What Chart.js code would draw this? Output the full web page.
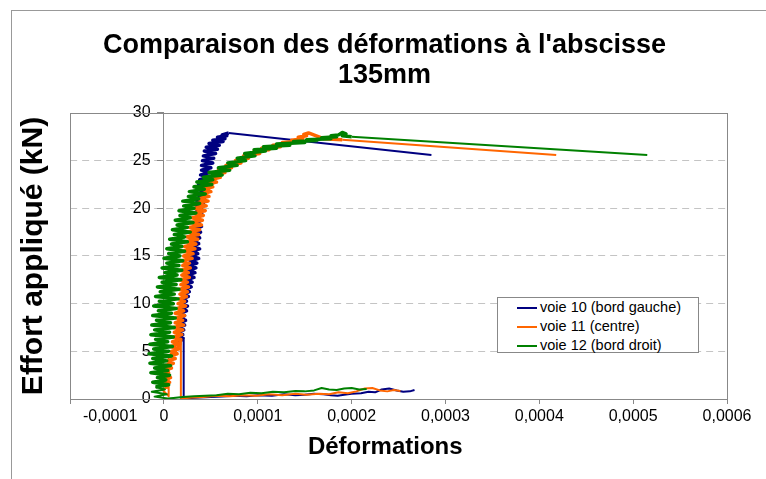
<!DOCTYPE html>
<html>
<head>
<meta charset="utf-8">
<script src="https://cdn.jsdelivr.net/npm/chart.js@4.4.1/dist/chart.umd.min.js"></script>
<style>
  body { margin: 0; background: #fff; }
  #wrap { position: relative; width: 766px; height: 479px; overflow: hidden; }
  #frame { position: absolute; left: 11px; top: 10px; width: 760px; height: 480px;
           border-left: 1px solid #999; border-top: 1px solid #999; }
  #chart { position: absolute; left: 0; top: 0; }
  #legend { position: absolute; left: 497px; top: 297px; width: 202px; height: 56px;
            border: 1px solid #888; background: #fff; box-sizing: border-box;
            padding: 0 0 0 19px; font: 14.5px "Liberation Sans", Arial, sans-serif; color: #000; }
  #legend div { height: 19px; line-height: 19px; white-space: nowrap; }
  #legend span { display: inline-block; width: 20px; height: 2px; vertical-align: middle; margin-right: 3px; }
</style>
</head>
<body>
<div id="wrap">
  <div id="frame"></div>
  <canvas id="chart" width="766" height="479"></canvas>
  <div id="legend"></div>
</div>
<script>
// valeurs : déformation (x) et effort en kN (y)
const strainVoie10 = [
  267e-6, 262e-6, 255e-6, 248e-6, 240e-6, 232e-6, 225e-6, 218e-6, 210e-6, 200e-6,
  192e-6, 185e-6, 178e-6, 170e-6, 160e-6, 150e-6, 140e-6, 128e-6, 115e-6, 100e-6,
  88e-6, 75e-6, 62e-6, 50e-6, 38e-6, 28e-6, 21e-6,
  21e-6, 13e-6, 19e-6, 14e-6, 20e-6, 15e-6, 21e-6, 16e-6, 22e-6, 17e-6,
  23e-6, 18e-6, 22e-6, 17e-6, 24e-6, 19e-6, 25e-6, 18e-6, 24e-6, 20e-6,
  26e-6, 21e-6, 27e-6, 22e-6, 29e-6, 23e-6, 30e-6, 24e-6, 32e-6, 25e-6,
  33e-6, 26e-6, 34e-6, 27e-6, 35e-6, 28e-6, 37e-6, 29e-6, 36e-6, 30e-6,
  38e-6, 30e-6, 37e-6, 31e-6, 38e-6, 32e-6, 39e-6, 32e-6, 40e-6, 33e-6,
  39e-6, 33e-6, 41e-6, 34e-6, 40e-6, 35e-6, 42e-6, 35e-6, 43e-6, 36e-6,
  45e-6, 36e-6, 47e-6, 37e-6, 46e-6, 38e-6, 48e-6, 39e-6, 49e-6, 40e-6,
  50e-6, 40e-6, 52e-6, 41e-6, 53e-6, 42e-6, 55e-6, 43e-6, 57e-6, 45e-6,
  59e-6, 48e-6, 63e-6, 52e-6, 65e-6, 57e-6, 67e-6, 62e-6, 69e-6,
  285e-6
];
const loadVoie10 = [
  0.95, 0.8, 0.75, 0.9, 1.1, 1.0, 0.7, 0.75, 0.6, 0.55,
  0.45, 0.35, 0.4, 0.5, 0.55, 0.45, 0.4, 0.5, 0.35, 0.4,
  0.3, 0.35, 0.25, 0.2, 0.15, 0.1, 0.05,
  6.5, 5.9, 6.2, 6.5, 6.75, 7.0, 7.25, 7.5, 7.75, 8.0,
  8.25, 8.5, 8.75, 9.0, 9.25, 9.5, 9.75, 10.0, 10.25, 10.5,
  10.75, 11.0, 11.25, 11.5, 11.75, 12.0, 12.25, 12.5, 12.75, 13.0,
  13.25, 13.5, 13.75, 14.0, 14.25, 14.5, 14.75, 15.0, 15.25, 15.5,
  15.75, 16.0, 16.3, 16.6, 16.9, 17.2, 17.5, 17.8, 18.1, 18.4,
  18.7, 19.0, 19.3, 19.6, 19.9, 20.2, 20.5, 20.8, 21.1, 21.4,
  21.7, 22.0, 22.25, 22.5, 22.75, 23.0, 23.25, 23.5, 23.75, 24.0,
  24.25, 24.5, 24.75, 25.0, 25.25, 25.5, 25.75, 26.0, 26.2, 26.4,
  26.6, 26.8, 27.0, 27.15, 27.3, 27.45, 27.6, 27.7, 27.9,
  25.6
];

const strainVoie11 = [
  252e-6, 245e-6, 238e-6, 230e-6, 222e-6, 214e-6, 205e-6, 196e-6, 186e-6, 176e-6,
  165e-6, 152e-6, 140e-6, 126e-6, 112e-6, 98e-6, 84e-6, 70e-6, 56e-6, 42e-6,
  30e-6, 18e-6,
  18e-6, 15e-6, 5e-6, 5e-6,
  -2e-6, 5e-6, -3e-6, 6e-6, -1e-6, 7e-6, -3e-6, 5e-6, 0, 8e-6,
  1e-6, 10e-6, 4e-6, 12e-6, 6e-6, 14e-6, 8e-6, 16e-6, 7e-6, 17e-6,
  9e-6, 18e-6, 10e-6, 19e-6, 11e-6, 20e-6, 10e-6, 21e-6, 12e-6, 20e-6,
  13e-6, 22e-6, 12e-6, 21e-6, 14e-6, 23e-6, 15e-6, 22e-6, 16e-6, 24e-6,
  17e-6, 25e-6, 16e-6, 26e-6, 18e-6, 25e-6, 17e-6, 27e-6, 19e-6, 26e-6,
  18e-6, 28e-6, 20e-6, 27e-6, 19e-6, 30e-6, 21e-6, 31e-6, 20e-6, 33e-6,
  22e-6, 34e-6, 23e-6, 36e-6, 24e-6, 37e-6, 25e-6, 38e-6, 27e-6, 40e-6,
  28e-6, 41e-6, 30e-6, 42e-6, 31e-6, 44e-6, 33e-6, 45e-6, 35e-6, 47e-6,
  37e-6, 48e-6, 39e-6, 50e-6, 42e-6, 52e-6, 45e-6, 56e-6, 49e-6, 60e-6,
  53e-6, 65e-6, 58e-6, 72e-6, 66e-6, 82e-6, 76e-6, 90e-6, 85e-6, 102e-6,
  96e-6, 112e-6, 104e-6, 124e-6, 116e-6, 134e-6, 126e-6, 142e-6, 136e-6, 148e-6,
  143e-6, 152e-6, 149e-6, 154e-6,
  170e-6, 190e-6, 418e-6
];
const loadVoie11 = [
  0.85, 0.95, 0.8, 0.9, 1.15, 1.1, 0.8, 0.6, 0.7, 0.5,
  0.55, 0.45, 0.55, 0.4, 0.5, 0.35, 0.4, 0.3, 0.35, 0.2,
  0.15, 0.05,
  6.2, 5.4, 4.4, 0.3,
  1.0, 1.25, 1.5, 1.75, 2.0, 2.25, 2.5, 2.75, 3.0, 3.25,
  3.5, 3.75, 4.0, 4.25, 4.5, 4.75, 5.0, 5.25, 5.5, 5.75,
  6.0, 6.25, 6.5, 6.75, 7.0, 7.25, 7.5, 7.75, 8.0, 8.25,
  8.5, 8.75, 9.0, 9.25, 9.5, 9.75, 10.0, 10.25, 10.5, 10.75,
  11.0, 11.25, 11.5, 11.75, 12.0, 12.25, 12.5, 12.75, 13.0, 13.25,
  13.5, 13.75, 14.0, 14.25, 14.5, 14.75, 15.0, 15.25, 15.5, 15.75,
  16.0, 16.25, 16.5, 16.75, 17.0, 17.25, 17.5, 17.75, 18.0, 18.25,
  18.5, 18.75, 19.0, 19.25, 19.5, 19.75, 20.0, 20.25, 20.5, 20.75,
  21.0, 21.25, 21.5, 21.75, 22.0, 22.25, 22.5, 22.75, 23.0, 23.25,
  23.5, 23.75, 24.0, 24.25, 24.5, 24.75, 25.0, 25.25, 25.5, 25.75,
  26.0, 26.15, 26.3, 26.45, 26.6, 26.75, 26.9, 27.0, 27.15, 27.3,
  27.45, 27.6, 27.75, 27.9,
  27.3, 27.2, 25.6
];

const strainVoie12 = [
  216e-6, 208e-6, 200e-6, 192e-6, 184e-6, 176e-6, 168e-6, 160e-6, 150e-6, 140e-6,
  128e-6, 116e-6, 104e-6, 92e-6, 80e-6, 68e-6, 56e-6, 44e-6, 32e-6, 20e-6,
  10e-6, 4e-6,
  -10e-6, 3e-6, -13e-6, 1e-6, -9e-6, 5e-6, -12e-6, 2e-6, -7e-6, 6e-6,
  -14e-6, 4e-6, -10e-6, 7e-6, -15e-6, 3e-6, -12e-6, 8e-6, -16e-6, 5e-6,
  -11e-6, 9e-6, -15e-6, 4e-6, -9e-6, 10e-6, -14e-6, 6e-6, -10e-6, 11e-6,
  -13e-6, 7e-6, -8e-6, 12e-6, -12e-6, 8e-6, -6e-6, 13e-6, -11e-6, 10e-6,
  -5e-6, 15e-6, -9e-6, 11e-6, -4e-6, 16e-6, -7e-6, 13e-6, -2e-6, 18e-6,
  -5e-6, 14e-6, 1e-6, 19e-6, -2e-6, 16e-6, 3e-6, 20e-6, 0, 17e-6,
  5e-6, 22e-6, 3e-6, 19e-6, 8e-6, 25e-6, 6e-6, 22e-6, 11e-6, 28e-6,
  9e-6, 25e-6, 14e-6, 31e-6, 12e-6, 28e-6, 17e-6, 34e-6, 16e-6, 32e-6,
  21e-6, 38e-6, 20e-6, 37e-6, 26e-6, 44e-6, 27e-6, 43e-6, 32e-6, 51e-6,
  35e-6, 52e-6, 42e-6, 62e-6, 48e-6, 70e-6, 58e-6, 78e-6, 68e-6, 87e-6,
  78e-6, 97e-6, 86e-6, 108e-6, 96e-6, 120e-6, 106e-6, 134e-6, 120e-6, 150e-6,
  138e-6, 163e-6, 152e-6, 178e-6, 168e-6, 184e-6, 178e-6,
  186e-6, 190e-6, 194e-6, 190e-6, 200e-6, 515e-6
];
const loadVoie12 = [
  1.05, 1.0, 1.15, 1.1, 0.95, 1.0, 1.15, 0.9, 0.8, 0.85,
  0.7, 0.75, 0.6, 0.65, 0.5, 0.55, 0.4, 0.35, 0.3, 0.2,
  0.1, 0.05,
  0.25, 0.5, 0.75, 1.0, 1.25, 1.5, 1.75, 2.0, 2.25, 2.5,
  2.75, 3.0, 3.25, 3.5, 3.75, 4.0, 4.25, 4.5, 4.75, 5.0,
  5.25, 5.5, 5.75, 6.0, 6.25, 6.5, 6.75, 7.0, 7.25, 7.5,
  7.75, 8.0, 8.25, 8.5, 8.75, 9.0, 9.25, 9.5, 9.75, 10.0,
  10.25, 10.5, 10.75, 11.0, 11.25, 11.5, 11.75, 12.0, 12.25, 12.5,
  12.75, 13.0, 13.25, 13.5, 13.75, 14.0, 14.25, 14.5, 14.75, 15.0,
  15.25, 15.5, 15.75, 16.0, 16.25, 16.5, 16.75, 17.0, 17.25, 17.5,
  17.75, 18.0, 18.25, 18.5, 18.75, 19.0, 19.25, 19.5, 19.75, 20.0,
  20.25, 20.5, 20.75, 21.0, 21.25, 21.5, 21.75, 22.0, 22.25, 22.5,
  22.75, 23.0, 23.25, 23.5, 23.75, 24.0, 24.25, 24.5, 24.75, 25.0,
  25.25, 25.5, 25.75, 26.0, 26.15, 26.3, 26.45, 26.6, 26.75, 26.9,
  27.0, 27.1, 27.2, 27.3, 27.4, 27.5, 27.6,
  27.7, 27.95, 27.8, 27.6, 27.5, 25.6
];

const seriesNames = ['voie 10 (bord gauche)', 'voie 11 (centre)', 'voie 12 (bord droit)'];
const xTickLabels = ['-0,0001', '0', '0,0001', '0,0002', '0,0003', '0,0004', '0,0005', '0,0006'];
const titleLines = ["Comparaison des déformations à l'abscisse", '135mm'];

const seriesColors = ['#000080', '#ff6600', '#008000'];
const pad = (n) => '\u00a0'.repeat(n);

function toPoints(xs, ys) {
  return xs.map((x, i) => ({ x: x, y: ys[i] }));
}

// trait plus épais dans la partie bruitée (montée en charge), fin ailleurs
function segWidth(ctx) {
  const dx = Math.abs(ctx.p1.x - ctx.p0.x);
  const low = Math.min(ctx.p0.parsed.y, ctx.p1.parsed.y);
  return (low >= 1.2 && dx < 60) ? 3.5 : 2;
}

Chart.defaults.font.family = '"Liberation Sans", Arial, sans-serif';
Chart.defaults.color = '#000';

// cadre gris autour de la zone de tracé
const plotFrame = {
  id: 'plotFrame',
  beforeDatasetsDraw(chart) {
    const a = chart.chartArea;
    const ctx = chart.ctx;
    ctx.save();
    ctx.strokeStyle = '#888';
    ctx.lineWidth = 1;
    ctx.strokeRect(Math.round(a.left) + 0.5, Math.round(a.top) + 0.5,
                   Math.round(a.right) - Math.round(a.left), Math.round(a.bottom) - Math.round(a.top));
    ctx.restore();
  }
};

const chart = new Chart('chart', {
  type: 'line',
  data: {
    datasets: [
      { label: seriesNames[0], data: toPoints(strainVoie10, loadVoie10), borderColor: seriesColors[0], backgroundColor: seriesColors[0], order: 3 },
      { label: seriesNames[1], data: toPoints(strainVoie11, loadVoie11), borderColor: seriesColors[1], backgroundColor: seriesColors[1], order: 2 },
      { label: seriesNames[2], data: toPoints(strainVoie12, loadVoie12), borderColor: seriesColors[2], backgroundColor: seriesColors[2], order: 1 }
    ]
  },
  options: {
    responsive: false,
    animation: false,
    elements: {
      point: { radius: 0 },
      line: { borderWidth: 2, tension: 0, borderJoinStyle: 'round' }
    },
    datasets: {
      line: { segment: { borderWidth: segWidth } }
    },
    layout: { padding: { left: 12, right: 39, top: 0, bottom: 13 } },
    plugins: {
      legend: { display: false },
      tooltip: { enabled: false },
      title: {
        display: true,
        text: titleLines.map((t) => pad(4) + t),
        color: '#000',
        font: { size: 27, weight: 'bold', lineHeight: 1.11 },
        padding: { top: 31, bottom: 22 }
      }
    },
    scales: {
      x: {
        type: 'linear',
        position: 'bottom',
        min: -0.0001,
        max: 0.0006,
        ticks: {
          stepSize: 0.0001,
          autoSkip: false,
          maxRotation: 0,
          padding: 3,
          color: '#000',
          font: { size: 16 },
          callback: (v, i) => i === 0 ? pad(18) + xTickLabels[0] : xTickLabels[i]
        },
        grid: { drawOnChartArea: false, tickLength: 5, color: '#888' },
        border: { color: '#888' },
        title: {
          display: true,
          text: 'Déformations' + pad(4),
          color: '#000',
          font: { size: 24, weight: 'bold' },
          padding: { top: 4, bottom: 4 }
        }
      },
      y: {
        type: 'linear',
        position: { x: 0 },
        min: 0,
        max: 30,
        ticks: {
          stepSize: 5,
          color: '#000',
          font: { size: 16 },
          callback: (v) => v + pad(3)
        },
        grid: {
          color: (c) => (c.tick && (c.tick.value === 0 || c.tick.value === 30)) ? 'rgba(0,0,0,0)' : '#c4c4c4',
          tickColor: '#888',
          tickLength: 6
        },
        border: { color: '#888', dash: [7, 5] }
      },
      yTitle: {
        type: 'linear',
        position: 'left',
        display: true,
        grid: { display: false, drawTicks: false },
        border: { display: false },
        ticks: { display: false },
        title: {
          display: true,
          text: 'Effort appliqué (kN)',
          color: '#000',
          font: { size: 30, weight: 'bold' },
          padding: { top: 3, bottom: 18 }
        }
      }
    }
  },
  plugins: [plotFrame]
});

// légende dans la zone de tracé
const legend = document.getElementById('legend');
chart.data.datasets.forEach((ds) => {
  const row = document.createElement('div');
  const line = document.createElement('span');
  line.style.background = ds.borderColor;
  row.appendChild(line);
  row.appendChild(document.createTextNode(ds.label));
  legend.appendChild(row);
});
</script>
</body>
</html>
